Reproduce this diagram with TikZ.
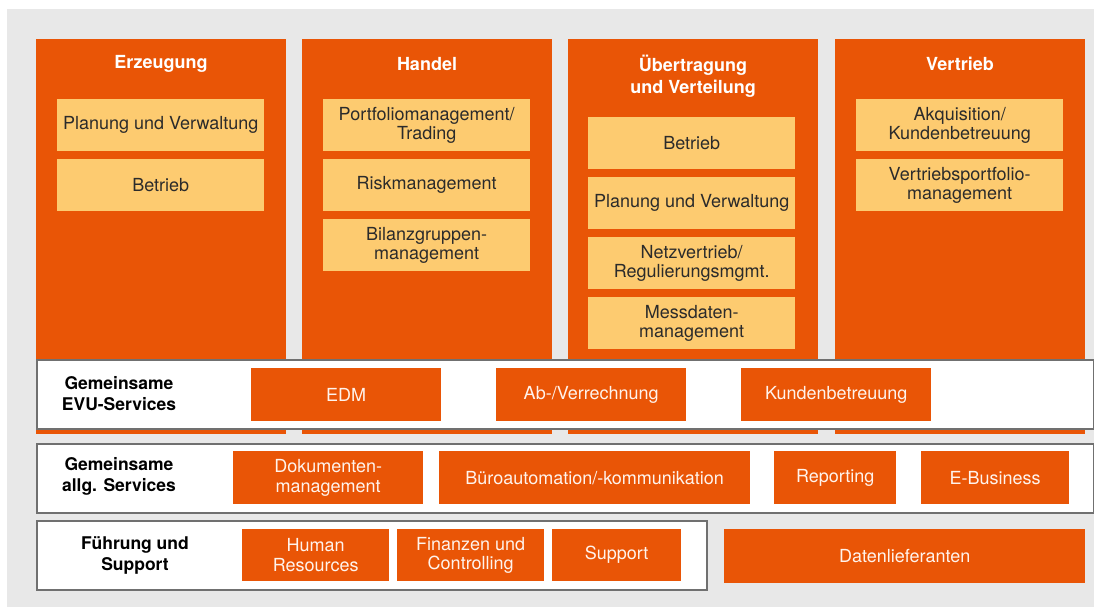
\documentclass[tikz,border=0pt]{standalone}
\usepackage{fontspec}
\setmainfont{TeX Gyre Heros}
\definecolor{bgc}{HTML}{E8E8E8}
\definecolor{org}{HTML}{E95506}
\definecolor{lgt}{HTML}{FDCB70}
\definecolor{brd}{HTML}{707070}
\definecolor{dtx}{HTML}{2B2B2B}
\definecolor{wtx}{HTML}{FFF3EC}
\begin{document}
\begin{tikzpicture}[x=1pt,y=-1pt,
  col/.style={fill=org, draw=none, anchor=north west, minimum width=250pt, minimum height=395pt, inner sep=0pt},
  ttl/.style={text=white, font=\fontsize{18}{22}\selectfont\bfseries, align=center},
  lbox/.style={fill=lgt, draw=none, anchor=north west, minimum width=207pt, minimum height=52pt, inner sep=0pt, align=center, text=dtx, font=\fontsize{18}{19.5}\selectfont},
  rowbox/.style={fill=white, draw=brd, line width=2pt, anchor=north west, inner sep=0pt},
  rlabel/.style={text=black, font=\fontsize{17.5}{21}\selectfont\bfseries, align=center},
  obox/.style={fill=org, draw=none, anchor=north west, minimum height=53pt, inner sep=0pt, align=center, text=wtx, font=\fontsize{18}{19.5}\selectfont}
]
\useasboundingbox (0,0) rectangle (1094,608);
\fill[bgc] (7,9) rectangle (1094,607);
% columns
\node[col] (c1) at (36,39) {};
\node[col] (c2) at (302,39) {};
\node[col] (c3) at (568,39) {};
\node[col] (c4) at (835,39) {};
\node[ttl] (t1) at (161,64) {Erzeugung};
\node[ttl] (t2) at (427,64) {Handel};
\node[ttl] (t3) at (693,76) {Übertragung\\und Verteilung};
\node[ttl] (t4) at (960,64) {Vertrieb};
% inner boxes
\node[lbox] (e1) at (57,99) {Planung und Verwaltung};
\node[lbox] (e2) at (57,159) {Betrieb};
\node[lbox] (h1) at (323,99) {Portfoliomanagement/\\Trading};
\node[lbox] (h2) at (323,159) {Riskmanagement};
\node[lbox] (h3) at (323,219) {Bilanzgruppen-\\management};
\node[lbox] (u1) at (588,117) {Betrieb};
\node[lbox] (u2) at (588,177) {Planung und Verwaltung};
\node[lbox] (u3) at (588,237) {Netzvertrieb/\\Regulierungsmgmt.};
\node[lbox] (u4) at (588,297) {Messdaten-\\management};
\node[lbox] (v1) at (856,99) {Akquisition/\\Kundenbetreuung};
\node[lbox] (v2) at (856,159) {Vertriebsportfolio-\\management};
% rows
\node[rowbox, minimum width=1057pt, minimum height=69pt] (r1) at (36,359) {};
\node[rowbox, minimum width=1057pt, minimum height=69pt] (r2) at (36,443) {};
\node[rowbox, minimum width=670pt, minimum height=69pt] (r3) at (36,520) {};
\node[rlabel] (l1) at (119,393.5) {Gemeinsame\\EVU-Services};
\node[rlabel] (l2) at (119,476.5) {Gemeinsame\\allg. Services};
\node[rlabel] (l3) at (135,555.5) {Führung und\\Support};
% orange service boxes
\node[obox, minimum width=190pt] (s1) at (251,368) {EDM};
\node[obox, minimum width=190pt] (s2) at (496,368) {Ab-/Verrechnung};
\node[obox, minimum width=190pt] (s3) at (741,368) {Kundenbetreuung};
\node[obox, minimum width=190pt] (a1) at (233,451) {Dokumenten-\\management};
\node[obox, minimum width=311pt] (a2) at (439,451) {Büroautomation/-kommunikation};
\node[obox, minimum width=122pt] (a3) at (774,451) {Reporting};
\node[obox, minimum width=148pt] (a4) at (921,451) {E-Business};
\node[obox, minimum width=147pt, minimum height=52pt] (f1) at (242,529) {Human\\Resources};
\node[obox, minimum width=147pt, minimum height=52pt] (f2) at (397,529) {Finanzen und\\Controlling};
\node[obox, minimum width=129pt, minimum height=52pt] (f3) at (552,529) {Support};
\node[obox, minimum width=361pt, minimum height=54pt] (d1) at (724,529) {Datenlieferanten};
\end{tikzpicture}
\end{document}
